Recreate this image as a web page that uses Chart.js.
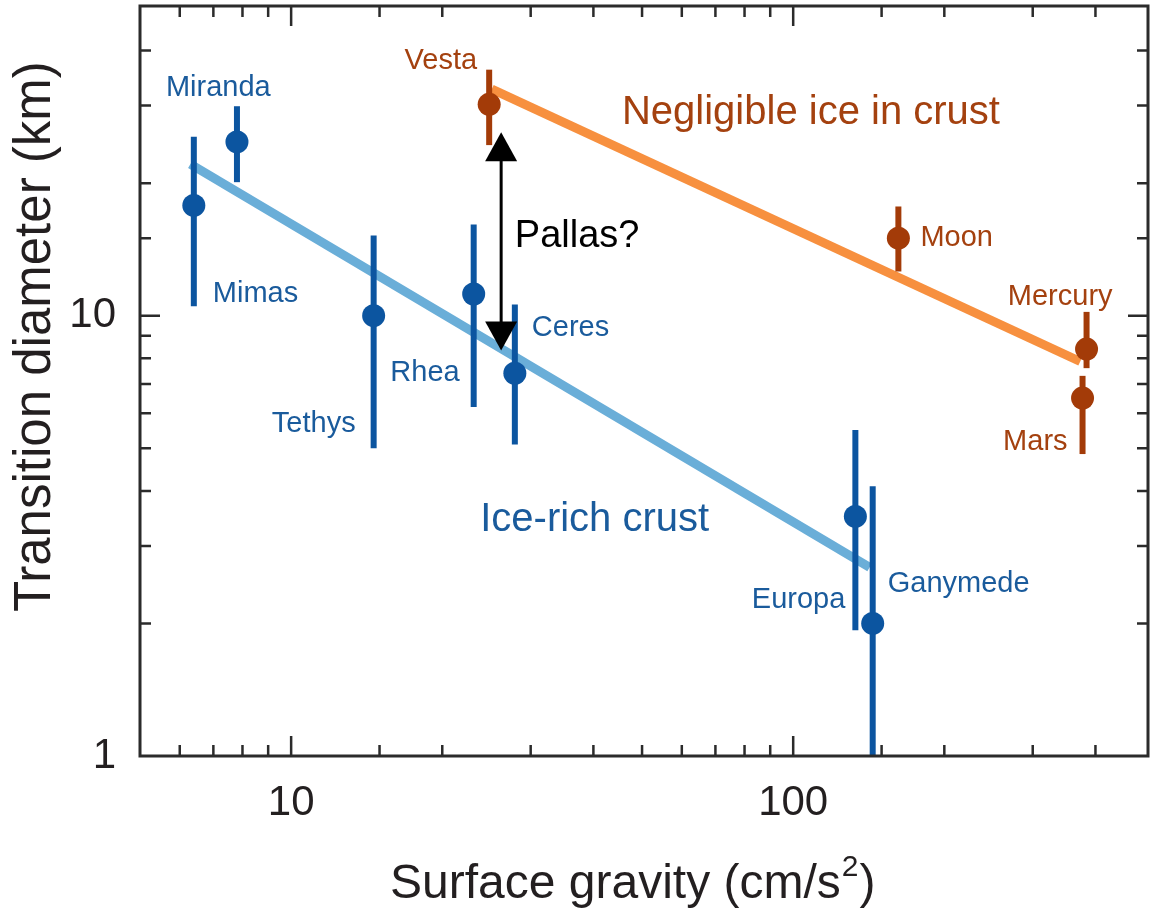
<!DOCTYPE html>
<html>
<head>
<meta charset="utf-8">
<script src="https://cdn.jsdelivr.net/npm/chart.js@4.4.0/dist/chart.umd.min.js"></script>
<style>
  html, body { margin: 0; padding: 0; background: #fff; }
  #wrap { width: 1153px; height: 914px; }
</style>
</head>
<body>
<div id="wrap"><canvas id="chart"></canvas></div>
<script>
// ice-rich bodies (blue)
const iceNames = ["Mimas", "Miranda", "Tethys", "Rhea", "Ceres", "Europa", "Ganymede"];
const iceGravity = [6.4, 7.8, 14.6, 23.1, 27.9, 133, 144];
const iceDiameter = [17.8, 24.8, 10.0, 11.2, 7.4, 3.5, 2.0];
const iceLow = [10.5, 20.1, 5.0, 6.2, 5.1, 1.93, 1.0];
const iceHigh = [25.5, 29.9, 15.2, 16.1, 10.6, 5.5, 4.1];

// rocky bodies (brown)
const rockNames = ["Vesta", "Moon", "Mercury", "Mars"];
const rockGravity = [24.8, 162, 384, 377];
const rockDiameter = [30.2, 15.0, 8.4, 6.5];
const rockLow = [24.4, 12.6, 7.6, 4.85];
const rockHigh = [36.2, 17.7, 10.2, 7.3];

// fit lines
const iceFitX = [6.3, 142];
const iceFitY = [22.1, 2.68];
const rockFitX = [25.1, 373];
const rockFitY = [32.7, 7.87];

// Pallas? range
const pallasX = 26.2;
const pallasRange = [8.34, 26.1];

const xTickLabels = [10, 100];
const yTickLabels = [1, 10];

const BLUE = "#0c55a0";
const BLUE_TEXT = "#1a5b9c";
const BROWN = "#a33b08";
const BROWN_TEXT = "#a4410f";
const FONT = "'Liberation Sans', Arial, Helvetica, sans-serif";
const INK = "#231f20";

// label offsets from each point in px: [dx, dy, align]
const labelPos = {
  Mimas: [19, 97, "left"],
  Miranda: [-71, -46, "left"],
  Tethys: [-18, 116, "right"],
  Rhea: [-14, 87, "right"],
  Ceres: [17, -37, "left"],
  Europa: [-10, 92, "right"],
  Ganymede: [15, -31, "left"],
  Vesta: [-12, -35, "right"],
  Moon: [22, 8, "left"],
  Mercury: [26, -44, "right"],
  Mars: [-15, 52, "right"],
};

function points(xs, ys) {
  return xs.map((v, i) => ({ x: v, y: ys[i] }));
}

function errorBars(xs, lo, hi, color) {
  return xs.map((v, i) => ({
    type: "line",
    data: [{ x: v, y: lo[i] }, { x: v, y: hi[i] }],
    borderColor: color,
    borderWidth: 6,
    pointRadius: 0,
    order: 2,
  }));
}

const datasets = [
  {
    type: "line",
    data: points(iceFitX, iceFitY),
    borderColor: "#6aaed8",
    borderWidth: 9,
    pointRadius: 0,
    order: 3,
  },
  {
    type: "line",
    data: points(rockFitX, rockFitY),
    borderColor: "#f7903f",
    borderWidth: 9,
    pointRadius: 0,
    order: 3,
  },
  ...errorBars(iceGravity, iceLow, iceHigh, BLUE),
  ...errorBars(rockGravity, rockLow, rockHigh, BROWN),
  {
    type: "scatter",
    data: points(iceGravity, iceDiameter),
    backgroundColor: BLUE,
    borderWidth: 0,
    pointRadius: 11.5,
    order: 1,
  },
  {
    type: "scatter",
    data: points(rockGravity, rockDiameter),
    backgroundColor: BROWN,
    borderWidth: 0,
    pointRadius: 11.5,
    order: 1,
  },
];

function text(ctx, str, px, py, align, size, color) {
  ctx.font = size + "px " + FONT;
  ctx.fillStyle = color;
  ctx.textAlign = align;
  ctx.textBaseline = "alphabetic";
  ctx.fillText(str, px, py);
}

function noPad(s) {
  s.paddingTop = 0;
  s.paddingBottom = 0;
  s.paddingLeft = 0;
  s.paddingRight = 0;
}

const annotate = {
  id: "annotate",
  afterDatasetsDraw(chart) {
    const { ctx } = chart;
    const x = chart.scales.x;
    const y = chart.scales.y;
    ctx.save();

    // body names
    const put = (names, xs, ys, color) => {
      names.forEach((n, i) => {
        const [dx, dy, align] = labelPos[n];
        text(ctx, n, x.getPixelForValue(xs[i]) + dx, y.getPixelForValue(ys[i]) + dy, align, 29, color);
      });
    };
    put(iceNames, iceGravity, iceDiameter, BLUE_TEXT);
    put(rockNames, rockGravity, rockDiameter, BROWN_TEXT);

    // region labels
    text(ctx, "Negligible ice in crust", x.getPixelForValue(45.6), y.getPixelForValue(27.2), "left", 40, BROWN_TEXT);
    text(ctx, "Ice-rich crust", x.getPixelForValue(23.8), y.getPixelForValue(3.24), "left", 40, BLUE_TEXT);
    text(ctx, "Pallas?", x.getPixelForValue(27.9), y.getPixelForValue(14.3), "left", 38, "#000");

    // Pallas? double arrow
    const ax = x.getPixelForValue(pallasX);
    const yTop = y.getPixelForValue(pallasRange[1]);
    const yBot = y.getPixelForValue(pallasRange[0]);
    ctx.strokeStyle = "#000";
    ctx.fillStyle = "#000";
    ctx.lineWidth = 3;
    ctx.beginPath();
    ctx.moveTo(ax, yTop + 20);
    ctx.lineTo(ax, yBot - 20);
    ctx.stroke();
    ctx.beginPath();
    ctx.moveTo(ax, yTop);
    ctx.lineTo(ax - 16, yTop + 29);
    ctx.lineTo(ax + 16, yTop + 29);
    ctx.closePath();
    ctx.fill();
    ctx.beginPath();
    ctx.moveTo(ax, yBot);
    ctx.lineTo(ax - 16, yBot - 29);
    ctx.lineTo(ax + 16, yBot - 29);
    ctx.closePath();
    ctx.fill();
    ctx.restore();
  },
  afterDraw(chart) {
    const { ctx, chartArea: a } = chart;
    const x = chart.scales.x;
    const y = chart.scales.y;
    ctx.save();
    ctx.strokeStyle = "#2b2b2b";

    // inward ticks on all four sides
    ctx.lineWidth = 2.5;
    ctx.beginPath();
    x.ticks.forEach((t) => {
      const p = x.getPixelForValue(t.value);
      if (p <= a.left + 6 || p >= a.right - 6) return;
      const len = Number.isInteger(Math.log10(t.value)) ? 20 : 11;
      ctx.moveTo(p, a.bottom); ctx.lineTo(p, a.bottom - len);
      ctx.moveTo(p, a.top); ctx.lineTo(p, a.top + len);
    });
    y.ticks.forEach((t) => {
      const p = y.getPixelForValue(t.value);
      if (p <= a.top + 6 || p >= a.bottom - 6) return;
      const len = Number.isInteger(Math.log10(t.value)) ? 20 : 11;
      ctx.moveTo(a.left, p); ctx.lineTo(a.left + len, p);
      ctx.moveTo(a.right, p); ctx.lineTo(a.right - len, p);
    });
    ctx.stroke();

    // frame
    ctx.lineWidth = 3;
    ctx.strokeRect(a.left, a.top, a.right - a.left, a.bottom - a.top);

    // axis titles
    ctx.fillStyle = INK;
    ctx.textBaseline = "alphabetic";
    ctx.textAlign = "left";
    ctx.font = "48px " + FONT;
    const main = "Surface gravity (cm/s";
    ctx.fillText(main, 390, 898);
    let w = ctx.measureText(main).width;
    ctx.font = "30px " + FONT;
    ctx.fillText("2", 390 + w + 1, 876);
    w += ctx.measureText("2").width + 2;
    ctx.font = "48px " + FONT;
    ctx.fillText(")", 390 + w, 898);

    ctx.translate(50, 612);
    ctx.rotate(-Math.PI / 2);
    ctx.font = "51px " + FONT;
    ctx.fillText("Transition diameter (km)", 0, 0);
    ctx.restore();
  },
};

new Chart(document.getElementById("chart"), {
  data: { datasets },
  options: {
    responsive: true,
    maintainAspectRatio: false,
    animation: false,
    events: [],
    layout: { autoPadding: false, padding: { top: 6, right: 5, left: 0, bottom: 0 } },
    plugins: { legend: { display: false }, tooltip: { enabled: false } },
    scales: {
      x: {
        type: "logarithmic",
        min: 5,
        max: 509,
        grid: { display: false },
        border: { display: false },
        ticks: {
          autoSkip: false,
          maxRotation: 0,
          padding: 14,
          color: INK,
          font: { size: 42, family: FONT },
          callback: (v) => (xTickLabels.includes(v) ? String(v) : ""),
        },
        afterFit: (s) => { s.height = 158; noPad(s); },
      },
      y: {
        type: "logarithmic",
        min: 1,
        max: 50.5,
        grid: { display: false },
        border: { display: false },
        ticks: {
          autoSkip: false,
          padding: 16,
          color: INK,
          font: { size: 42, family: FONT },
          callback: (v) => (yTickLabels.includes(v) ? String(v) : ""),
        },
        afterFit: (s) => { s.width = 140; noPad(s); },
      },
    },
  },
  plugins: [annotate],
});
</script>
</body>
</html>
